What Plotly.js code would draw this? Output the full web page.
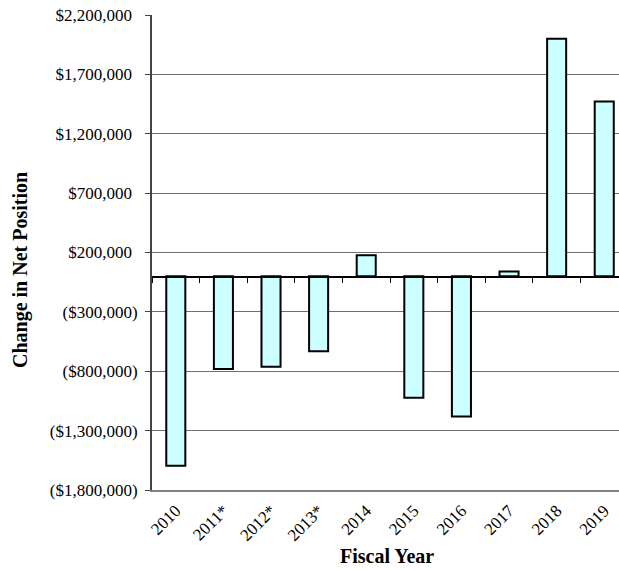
<!DOCTYPE html>
<html>
<head>
<meta charset="utf-8">
<script src="https://cdn.plot.ly/plotly-3.0.1.min.js"></script>
<style>html,body{margin:0;padding:0;background:#fff;}#chart{width:619px;height:570px;}</style>
</head>
<body>
<div id="chart"></div>
<script>
const years = ['2010','2011*','2012*','2013*','2014','2015','2016','2017','2018','2019'];
const changeInNetPosition = [-1595000, -780000, -763000, -632000, 177000, -1024000, -1181000, 40000, 2000000, 1471000];
const yTickValues = [-1800000, -1300000, -800000, -300000, 200000, 700000, 1200000, 1700000, 2200000];
const yTickLabels = ['($1,800,000)','($1,300,000)','($800,000)','($300,000)','$200,000','$700,000','$1,200,000','$1,700,000','$2,200,000'];
const xTitle = 'Fiscal Year';
const yTitle = 'Change in Net Position';

const pad = '<span style="color:rgba(0,0,0,0)">)</span>';
const yTickText = yTickLabels.map(t => t.startsWith('(') ? t : t + pad);

const font = 'Liberation Serif, Times New Roman, serif';
const xRange = [-0.5, 9.31];

const traces = [
  {
    type: 'bar',
    x: years,
    y: changeInNetPosition,
    width: 0.4,
    marker: {color: '#CCFFFF', line: {color: '#000000', width: 2}},
    hoverinfo: 'x+y',
    xaxis: 'x',
    yaxis: 'y'
  },
  {
    type: 'scatter',
    mode: 'markers',
    x: years,
    y: years.map(() => null),
    marker: {opacity: 0},
    hoverinfo: 'skip',
    showlegend: false,
    xaxis: 'x2',
    yaxis: 'y'
  }
];

const layout = {
  width: 619,
  height: 570,
  margin: {l: 152, r: 0, t: 15, b: 80},
  paper_bgcolor: '#ffffff',
  plot_bgcolor: '#ffffff',
  showlegend: false,
  font: {family: font, color: '#000000', size: 17},
  xaxis: {
    type: 'category',
    categoryorder: 'array',
    categoryarray: years,
    range: xRange,
    showgrid: false,
    zeroline: false,
    showline: true,
    linecolor: '#808080',
    linewidth: 2,
    ticks: '',
    tickangle: -45,
    ticklabelstandoff: 2,
    tickfont: {family: font, size: 17, color: '#000000'}
  },
  xaxis2: {
    type: 'category',
    categoryorder: 'array',
    categoryarray: years,
    range: xRange,
    overlaying: 'x',
    anchor: 'free',
    position: 0.45,
    showgrid: false,
    zeroline: false,
    showline: true,
    linecolor: '#000000',
    linewidth: 1.5,
    ticks: 'outside',
    tickson: 'boundaries',
    ticklen: 5,
    tickcolor: '#000000',
    tickwidth: 1,
    showticklabels: false
  },
  yaxis: {
    range: [-1800000, 2200000],
    tickvals: yTickValues,
    ticktext: yTickText,
    showgrid: true,
    gridcolor: '#707070',
    gridwidth: 1,
    zeroline: false,
    showline: true,
    linecolor: '#444444',
    linewidth: 2,
    ticks: 'outside',
    ticklen: 5,
    tickcolor: '#444444',
    ticklabelstandoff: 4,
    tickfont: {family: font, size: 17, color: '#000000'}
  },
  annotations: [
    {
      text: '<b>' + xTitle + '</b>',
      xref: 'paper', yref: 'paper',
      x: 0.503, y: -0.139,
      xanchor: 'center', yanchor: 'middle',
      showarrow: false,
      font: {family: font, size: 20, color: '#000000'}
    },
    {
      text: '<b>' + yTitle + '</b>',
      xref: 'paper', yref: 'paper',
      x: -0.2827, y: 0.463,
      xanchor: 'center', yanchor: 'middle',
      textangle: -90,
      showarrow: false,
      font: {family: font, size: 20, color: '#000000'}
    }
  ]
};

Plotly.newPlot('chart', traces, layout, {displayModeBar: false, staticPlot: true});
</script>
</body>
</html>
